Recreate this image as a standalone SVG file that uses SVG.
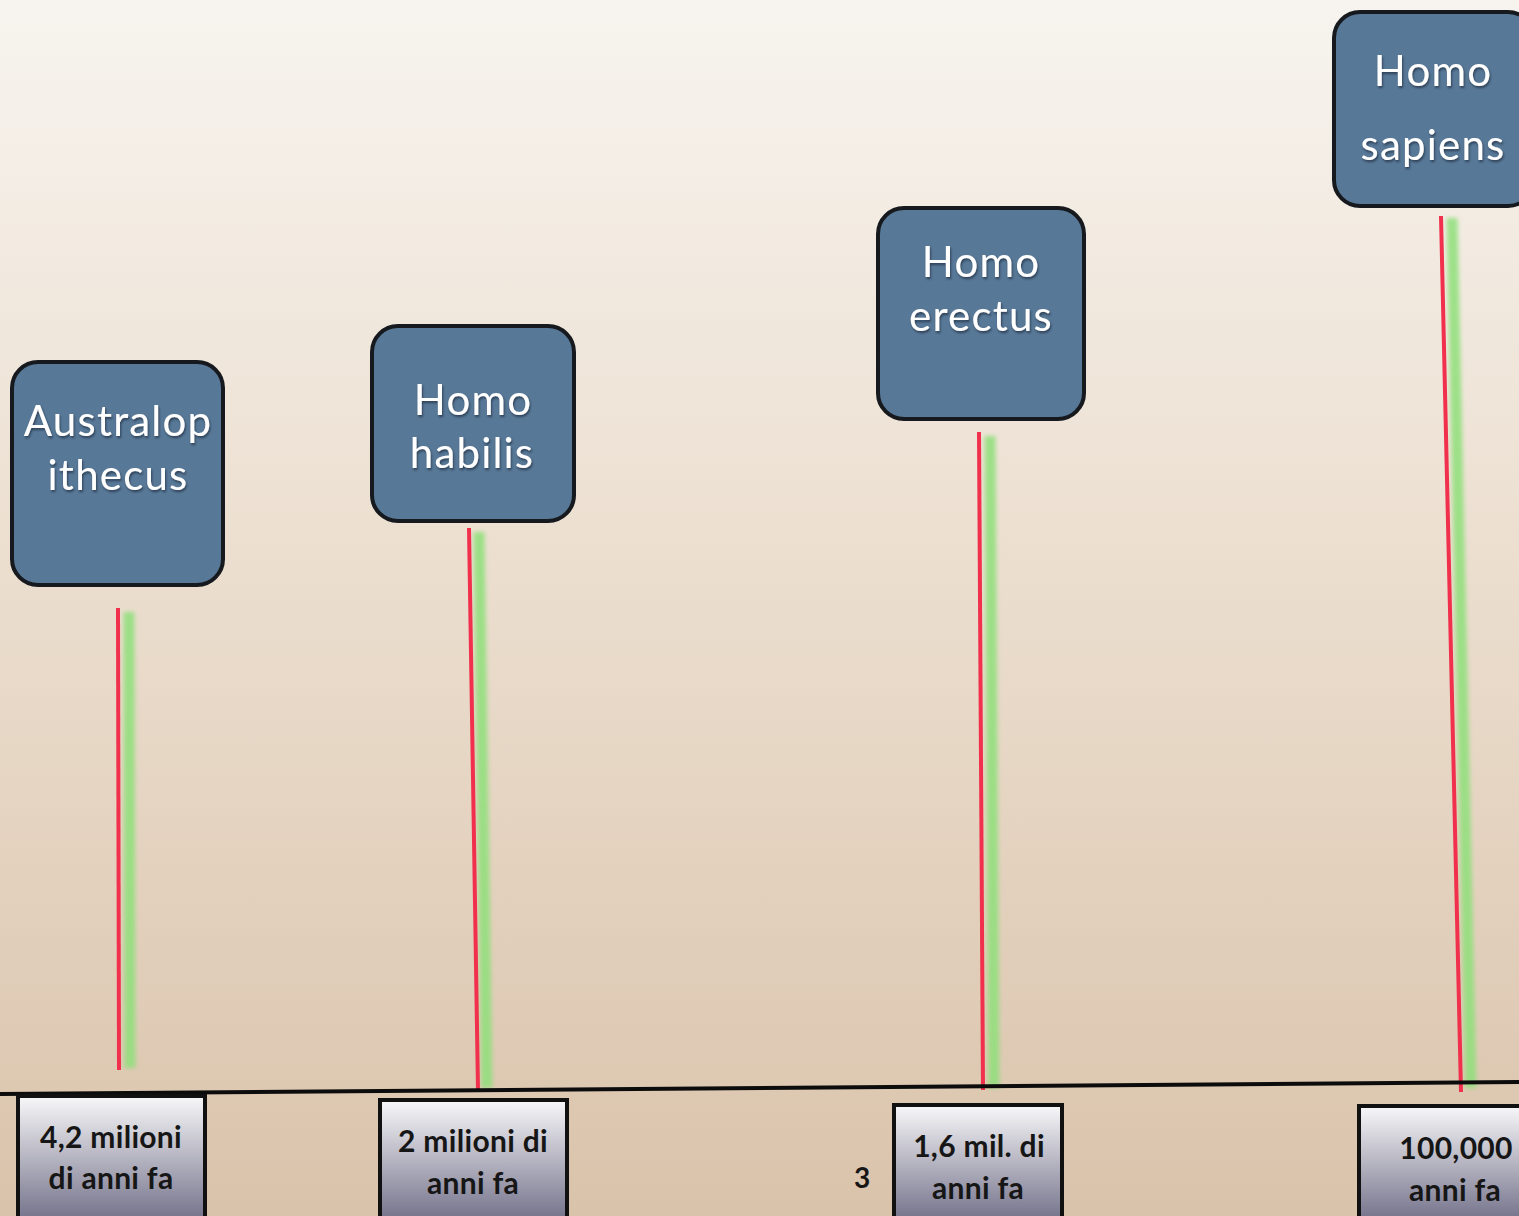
<svg xmlns="http://www.w3.org/2000/svg" width="1519" height="1216" viewBox="0 0 1519 1216">
<style>
.node rect.b{fill:#587897;stroke:#16191e;stroke-width:4}
.node text.t{font-family:Lato,"Open Sans",sans-serif;font-size:42px;letter-spacing:1.2px;fill:#ffffff;text-anchor:middle}
.lab rect{fill:url(#silver);stroke:#111;stroke-width:4}
.lab text{font-family:Lato,"Open Sans",sans-serif;font-size:30px;font-weight:bold;letter-spacing:0.3px;fill:#161616;text-anchor:middle}
.red{stroke:#f0304c;stroke-width:4;fill:none}
.grn{stroke:#8fe07a;stroke-width:11;fill:none;opacity:0.85;filter:url(#blur)}
</style>
<defs>
<linearGradient id="bg" x1="0" y1="0" x2="0" y2="1">
<stop offset="0" stop-color="#f7f4ef"/>
<stop offset="0.45" stop-color="#ecdfd0"/>
<stop offset="1" stop-color="#dac3ab"/>
</linearGradient>
<linearGradient id="silver" x1="0" y1="0" x2="0" y2="1">
<stop offset="0" stop-color="#f8f8fa"/>
<stop offset="0.45" stop-color="#b9b8c4"/>
<stop offset="1" stop-color="#6e6c86"/>
</linearGradient>
<filter id="blur" filterUnits="userSpaceOnUse" x="0" y="0" width="1519" height="1216"><feGaussianBlur stdDeviation="2"/></filter>
<filter id="ts" x="-0.1" y="-0.1" width="1.2" height="1.3"><feDropShadow dx="1" dy="2" stdDeviation="1" flood-color="#1d2b3a" flood-opacity="0.7"/></filter>
</defs>
<rect x="0" y="0" width="1519" height="1216" fill="url(#bg)"/>
<g id="connectors">
<line class="grn" x1="129" y1="612" x2="130" y2="1068"/>
<line class="red" x1="118" y1="608" x2="119" y2="1070"/>
<line class="grn" x1="479" y1="532" x2="487" y2="1088"/>
<line class="red" x1="469" y1="528" x2="478" y2="1090"/>
<line class="grn" x1="990" y1="436" x2="994" y2="1088"/>
<line class="red" x1="979" y1="432" x2="983" y2="1090"/>
<line class="grn" x1="1452" y1="218" x2="1471" y2="1088"/>
<line class="red" x1="1441" y1="216" x2="1461" y2="1092"/>
<line x1="0" y1="1094" x2="1519" y2="1082" stroke="#0c0c0c" stroke-width="4"/>
</g>
<g id="node-australopithecus" class="node">
<rect class="b" x="12" y="362" width="211" height="223" rx="26"/>
<text class="t" filter="url(#ts)" x="118" y="436">Australop</text>
<text class="t" filter="url(#ts)" x="118" y="490">ithecus</text>
</g>
<g id="node-habilis" class="node">
<rect class="b" x="372" y="326" width="202" height="195" rx="26"/>
<text class="t" filter="url(#ts)" x="473" y="415">Homo</text>
<text class="t" filter="url(#ts)" x="472" y="468">habilis</text>
</g>
<g id="node-erectus" class="node">
<rect class="b" x="878" y="208" width="206" height="211" rx="26"/>
<text class="t" filter="url(#ts)" x="981" y="277">Homo</text>
<text class="t" filter="url(#ts)" x="981" y="331">erectus</text>
</g>
<g id="node-sapiens" class="node">
<rect class="b" x="1334" y="12" width="200" height="194" rx="26"/>
<text class="t" filter="url(#ts)" x="1433" y="86">Homo</text>
<text class="t" filter="url(#ts)" x="1433" y="160">sapiens</text>
</g>
<g id="label-1" class="lab">
<rect x="18" y="1096" width="187" height="130"/>
<text x="111" y="1148">4,2 milioni</text>
<text x="111" y="1189">di anni fa</text>
</g>
<g id="label-2" class="lab">
<rect x="380" y="1100" width="187" height="126"/>
<text x="473" y="1152">2 milioni di</text>
<text x="473" y="1194">anni fa</text>
</g>
<g id="label-3" class="lab">
<rect x="894" y="1105" width="168" height="121"/>
<text x="979" y="1157">1,6 mil. di</text>
<text x="978" y="1199">anni fa</text>
</g>
<g id="label-4" class="lab">
<rect x="1359" y="1106" width="180" height="120"/>
<text x="1456" y="1159">100,000</text>
<text x="1455" y="1201">anni fa</text>
</g>
<text x="862" y="1188" font-family="Lato,'Open Sans',sans-serif" font-size="28" font-weight="bold" fill="#161616" text-anchor="middle">3</text>
</svg>
